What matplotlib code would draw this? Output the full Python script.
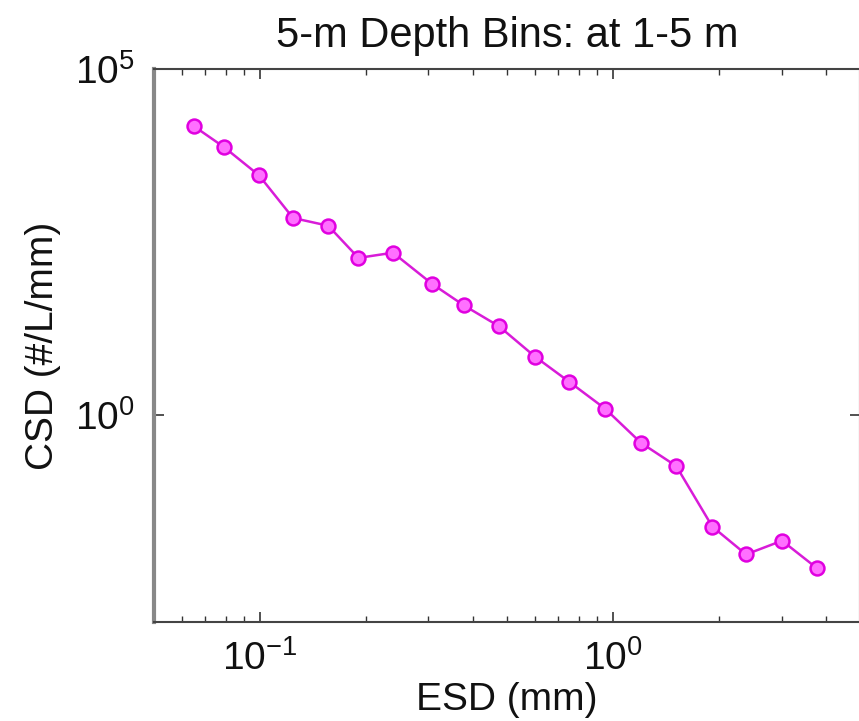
import numpy as np
import matplotlib
matplotlib.use('Agg')
import matplotlib.pyplot as plt
from matplotlib.ticker import LogLocator, NullLocator

# ESD bin centres (mm) and concentration (#/L/mm)
esd = [0.0648, 0.0791, 0.0993, 0.124, 0.156, 0.190, 0.238, 0.307, 0.378,
       0.475, 0.601, 0.750, 0.949, 1.20, 1.51, 1.91, 2.38, 3.01, 3.78]
csd = [1.5e4, 7.4e3, 2.9e3, 7.0e2, 5.4e2, 1.85e2, 2.2e2, 78, 38,
       19, 6.9, 3.0, 1.22, 0.39, 0.18, 0.024, 0.0095, 0.015, 0.006]
title = '5-m Depth Bins: at 1-5 m'

plt.rcParams['font.family'] = ['Liberation Sans', 'DejaVu Sans']
plt.rcParams['mathtext.fontset'] = 'custom'
plt.rcParams['mathtext.rm'] = 'Liberation Sans'
plt.rcParams['mathtext.it'] = 'Liberation Sans'

fig = plt.figure(figsize=(8.59, 7.21), dpi=100)
ax = fig.add_axes([0.179, 0.1373, 0.822, 0.767])

ax.plot(esd, csd, color='#d81cd8', lw=1.8, marker='o', ms=10,
        mfc='#ff70ff', mec='#e000e0', mew=1.8)

ax.set_xscale('log')
ax.set_yscale('log')
ax.set_xlim(0.05, 5)
ax.set_ylim(1e-3, 1e5)
ax.set_yticks([1e0, 1e5])
ax.yaxis.set_minor_locator(NullLocator())
ax.xaxis.set_major_locator(LogLocator(base=10, numticks=10))
ax.xaxis.set_minor_locator(LogLocator(base=10, subs=np.arange(2, 10), numticks=20))

ax.tick_params(which='both', direction='in', top=True, right=True,
               labelsize=28, colors='#333333', labelcolor='#111111')
ax.tick_params(which='major', length=7, width=1.2)
ax.tick_params(which='minor', length=4, width=1.0)
ax.tick_params(axis='x', pad=13)
ax.tick_params(axis='y', pad=14)

for s in ['top', 'bottom', 'right']:
    ax.spines[s].set_color('#444444')
    ax.spines[s].set_linewidth(1.5)
ax.spines['left'].set_color('#888888')
ax.spines['left'].set_linewidth(3)

ax.set_title(title, fontsize=30, pad=16, color='#111111')
ax.set_xlabel('ESD (mm)', fontsize=28, labelpad=3, color='#111111')
ax.set_ylabel('CSD (#/L/mm)', fontsize=28, labelpad=10, color='#111111')

fig.savefig('out.png', dpi=100)
